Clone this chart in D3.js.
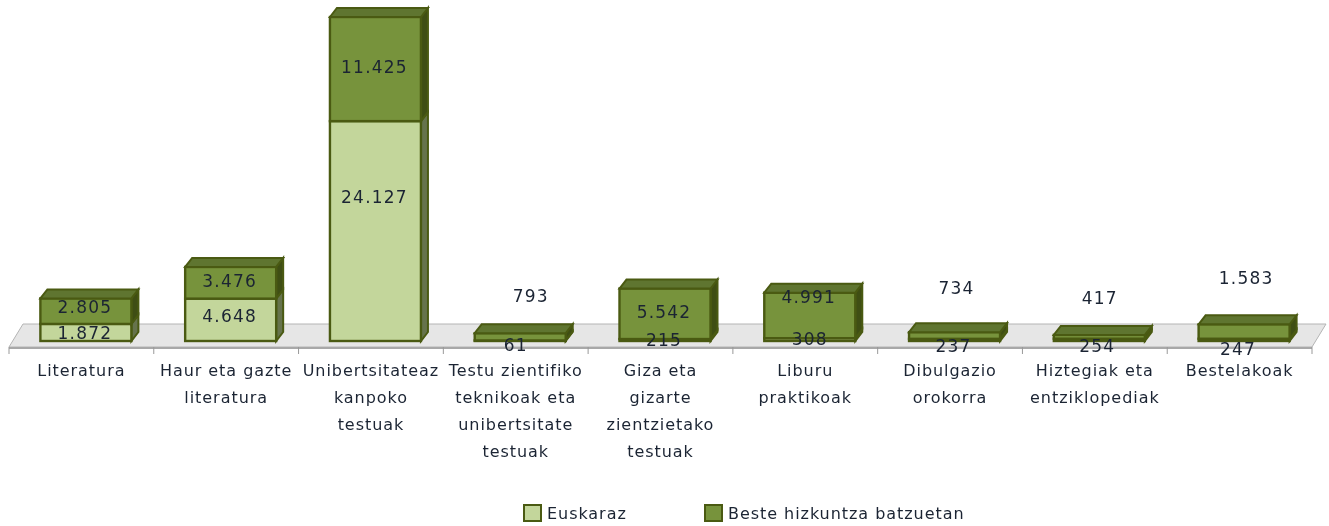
<!DOCTYPE html>
<html><head><meta charset="utf-8">
<script src="https://cdn.jsdelivr.net/npm/d3@7"></script>
<style>html,body{margin:0;background:#fff}svg{display:block;filter:blur(0.45px)}
text{font-family:"DejaVu Sans",sans-serif;font-size:16px;letter-spacing:0.95px;fill:#1b2433}
.val{font-size:17px;letter-spacing:1.2px}</style></head>
<body><svg id="c" width="1329" height="526"></svg>
<script>
const categories=["Literatura","Haur eta gazte literatura","Unibertsitateaz kanpoko testuak","Testu zientifiko teknikoak eta unibertsitate testuak","Giza eta gizarte zientzietako testuak","Liburu praktikoak","Dibulgazio orokorra","Hiztegiak eta entziklopediak","Bestelakoak"];
const categoryLines=[["Literatura"],["Haur eta gazte","literatura"],["Unibertsitateaz","kanpoko","testuak"],["Testu zientifiko","teknikoak eta","unibertsitate","testuak"],["Giza eta","gizarte","zientzietako","testuak"],["Liburu","praktikoak"],["Dibulgazio","orokorra"],["Hiztegiak eta","entziklopediak"],["Bestelakoak"]];
const euskaraz=[1872,4648,24127,61,215,308,237,254,247];
const beste=[2805,3476,11425,793,5542,4991,734,417,1583];
const seriesNames=["Euskaraz","Beste hizkuntza batzuetan"];
// layout: manual label displacement (px) from the segment centre
const nudgeEuskaraz=[[0,0],[0,-4],[0,-34],[-3.5,4],[0,0],[1,-1],[0,6],[-1,6],[-5,9]];
const nudgeBeste=[[0,-4.5],[0,-2],[0,-2],[11.5,-41],[0,-2],[0,-19],[3,-47.5],[1.5,-39],[3,-53.5]];

const svg=d3.select("#c");
const x=d3.scaleBand().domain(categories).range([9,1312]).paddingInner(0).paddingOuter(0);
const y=d3.scaleLinear().domain([0,35552]).range([341,17]);
const dx=7,dy=9,bw=91,floorDx=14,floorBack=324,floorFront=347;
const fmt=v=>String(v).replace(/\B(?=(\d{3})+$)/g,".");
const light="#c3d69b",dark="#77933c",stroke="#4a5a12";
const shade={[light]:"#66734c",[dark]:"#3f4e14"};
const topShade={[light]:"#8a9a68",[dark]:"#5f7530"};

// floor
const floor=svg.append("g");
floor.append("path").attr("d",`M9,${floorFront}L${9+floorDx},${floorBack}L1326,${floorBack}L1312,${floorFront}Z`).attr("fill","#e6e6e6").attr("stroke","#b4b4b4");
floor.append("rect").attr("x",9).attr("y",floorFront).attr("width",1303).attr("height",2).attr("fill","#a8a8a8");
const ticks=categories.map(c=>x(c)).concat([1312]);
floor.selectAll("line").data(ticks).join("line").attr("x1",d=>d).attr("x2",d=>d).attr("y1",floorFront).attr("y2",354).attr("stroke","#999");

// bars
const rows=categories.map((c,i)=>({c,euskaraz:euskaraz[i],beste:beste[i]}));
const stack=d3.stack().keys(["euskaraz","beste"])(rows);
const colors={euskaraz:light,beste:dark};
const bars=svg.append("g");
categories.forEach((c,i)=>{
  const g=bars.append("g");
  const bx=x(c)+x.bandwidth()/2-45.5+4.5;
  stack.forEach((s,si)=>{
    const col=colors[s.key],t=y(s[i][1]),b=y(s[i][0]);
    g.append("path").attr("d",`M${bx+bw},${t}l${dx},${-dy}L${bx+bw+dx},${b-dy}L${bx+bw},${b}Z`).attr("fill",shade[col]).attr("stroke",stroke).attr("stroke-width",2);
    g.append("rect").attr("x",bx).attr("y",t).attr("width",bw).attr("height",b-t).attr("fill",col).attr("stroke",stroke).attr("stroke-width",2.4);
    if(si===1) g.append("path").attr("d",`M${bx},${t}l${dx},${-dy}h${bw}l${-dx},${dy}Z`).attr("fill",topShade[col]).attr("stroke",stroke).attr("stroke-width",2);
  });
});

// value labels
const labels=svg.append("g").attr("text-anchor","middle");
stack.forEach((s,si)=>{
  const nudge=si===0?nudgeEuskaraz:nudgeBeste;
  categories.forEach((c,i)=>{
    const n=nudge[i];
    const cx=x(c)+x.bandwidth()/2+3.5+n[0];
    const cy=(y(s[i][0])+y(s[i][1]))/2+n[1];
    labels.append("text").attr("class","val").attr("x",cx).attr("y",cy).attr("dy","0.36em").text(fmt(s[i][1]-s[i][0]));
  });
});

// category labels
const cat=svg.append("g").attr("text-anchor","middle");
categories.forEach((c,i)=>{
  categoryLines[i].forEach((l,j)=>{
    cat.append("text").attr("x",x(c)+x.bandwidth()/2).attr("y",370+j*27).attr("dy","0.36em").text(l);
  });
});

// legend
const legend=svg.append("g");
[[524,547],[705,728]].forEach((p,i)=>{
  legend.append("rect").attr("x",p[0]).attr("y",505).attr("width",17).attr("height",16).attr("fill",[light,dark][i]).attr("stroke",stroke).attr("stroke-width",2);
  legend.append("text").attr("x",p[1]).attr("y",513).attr("dy","0.36em").text(seriesNames[i]);
});
</script></body></html>
